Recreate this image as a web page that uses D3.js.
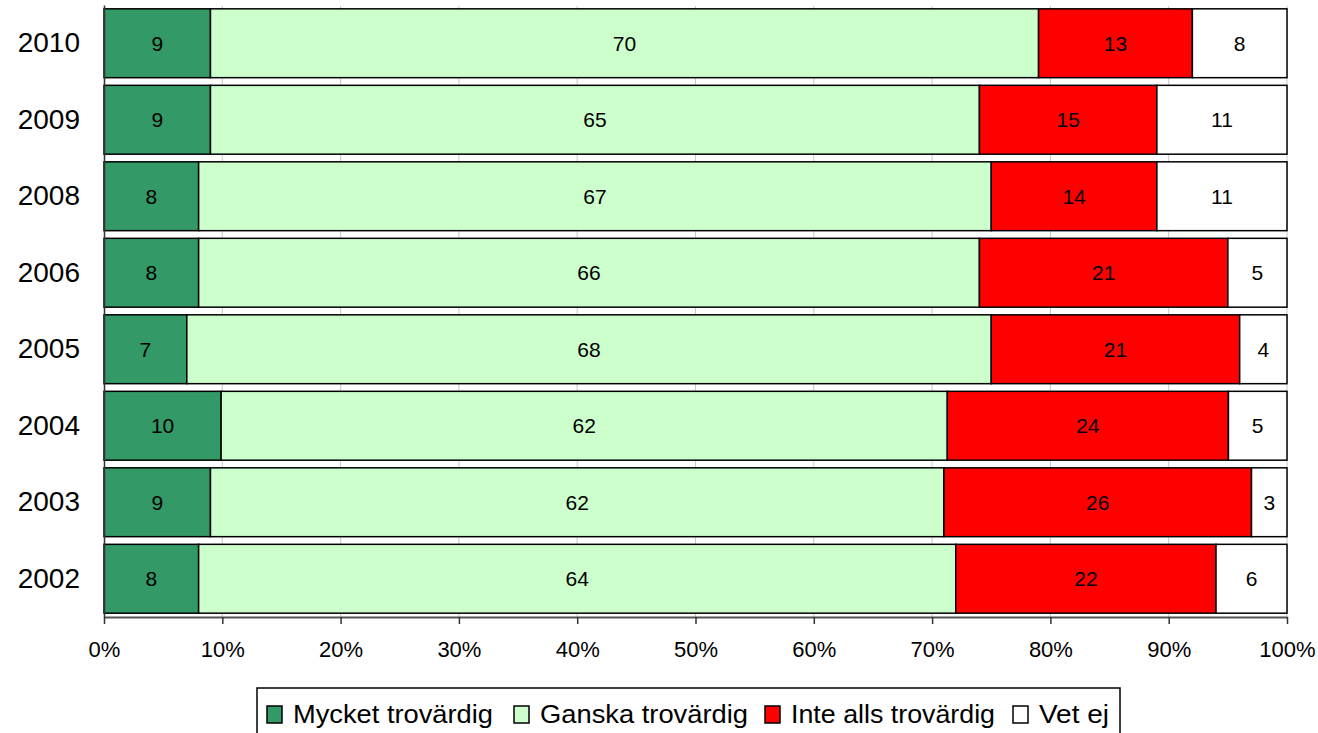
<!DOCTYPE html>
<html><head><meta charset="utf-8">
<script src="https://cdn.jsdelivr.net/npm/d3@7/dist/d3.min.js"></script>
<style>body{margin:0;background:#fff}svg{display:block}text{font-family:"Liberation Sans",Arial,sans-serif}</style>
</head><body><svg id="c" width="1318" height="733"></svg>
<script>
const years = ["2010","2009","2008","2006","2005","2004","2003","2002"];
const seriesNames = ["Mycket trovärdig","Ganska trovärdig","Inte alls trovärdig","Vet ej"];
const mycket = [9,9,8,8,7,10,9,8];
const ganska = [70,65,67,66,68,62,62,64];
const inte = [13,15,14,21,21,24,26,22];
const vetej = [8,11,11,5,4,5,3,6];
const colors = ["#339966","#CCFFCC","#FF0000","#FFFFFF"];
const tickValues = [0,0.1,0.2,0.3,0.4,0.5,0.6,0.7,0.8,0.9,1];

const svg = d3.select("#c");
const L=104,R=1287,T=5,B=617;
const x = d3.scaleLinear().domain([0,1]).range([L,R]);
const y = d3.scaleBand().domain(years).range([T,B]).paddingInner(0.1).paddingOuter(0.05);

// gridlines
svg.append("g").selectAll("line").data(tickValues.slice(1)).join("line")
  .attr("x1",d=>x(d)).attr("x2",d=>x(d)).attr("y1",T+1).attr("y2",B)
  .attr("stroke","#c8c8c8").attr("stroke-width",1);

const table = years.map((yr,i)=>{
  const vals=[mycket[i],ganska[i],inte[i],vetej[i]];
  const tot=d3.sum(vals); let acc=0;
  return vals.map((v,k)=>{const s=acc/tot; acc+=v; return {yr,k,v,s,e:acc/tot};});
});
const g = svg.append("g");
table.forEach(row=>{
  row.forEach(d=>{
    g.append("rect").attr("x",x(d.s)).attr("y",y(d.yr)).attr("width",x(d.e)-x(d.s)).attr("height",y.bandwidth())
      .attr("fill",colors[d.k]).attr("stroke","#000").attr("stroke-width",1.5);
    g.append("text").attr("x",(x(d.s)+x(d.e))/2).attr("y",y(d.yr)+y.bandwidth()/2).attr("dy","0.36em")
      .attr("text-anchor","middle").attr("font-size",21).attr("fill","#000").text(d.v);
  });
});

// axes
const xa = svg.append("g").attr("transform",`translate(0,${B})`)
  .call(d3.axisBottom(x).tickValues(tickValues).tickFormat(d3.format(".0%")).tickSize(7).tickSizeOuter(0));
xa.select(".domain").attr("stroke","#555").attr("stroke-width",2);
xa.selectAll(".tick line").attr("stroke","#333").attr("stroke-width",1.5);
xa.selectAll("text").attr("font-size",22).attr("font-family","Liberation Sans, Arial, sans-serif").attr("fill","#000").attr("y",0).attr("dy","1.82em");

const ya = svg.append("g").attr("transform",`translate(${L},0)`)
  .call(d3.axisLeft(y).tickSize(0).tickPadding(24));
ya.select(".domain").attr("stroke","#333").attr("stroke-width",1.5);
ya.selectAll("text").attr("font-size",28).attr("font-family","Liberation Sans, Arial, sans-serif").attr("fill","#000");

// legend
const lg = svg.append("g");
lg.append("rect").attr("x",257).attr("y",688).attr("width",863).attr("height",60).attr("fill","#fff").attr("stroke","#000").attr("stroke-width",1.5);
const lx=[267,514,765,1013];
const lw=[200,208,204,70];
seriesNames.forEach((n,k)=>{
  lg.append("rect").attr("x",lx[k]).attr("y",706).attr("width",15).attr("height",17).attr("fill",colors[k]).attr("stroke","#000").attr("stroke-width",1.5);
  lg.append("text").attr("x",lx[k]+26).attr("y",723).attr("font-size",26).attr("fill","#000")
    .attr("textLength",lw[k]).attr("lengthAdjust","spacingAndGlyphs").text(n);
});
</script></body></html>
